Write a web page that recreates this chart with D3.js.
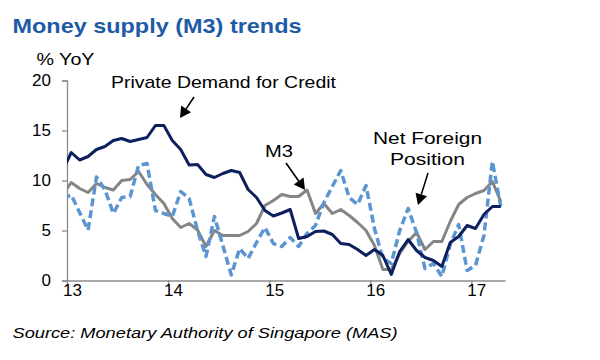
<!DOCTYPE html>
<html><head><meta charset="utf-8">
<script src="https://cdn.jsdelivr.net/npm/d3@7"></script>
<style>
body{margin:0;background:#fff;}
svg{display:block;font-family:"Liberation Sans",Arial,sans-serif;}
</style></head>
<body>
<svg id="chart" width="600" height="360"></svg>
<script>
// Month index: -1 = Dec 2012, 0 = Jan 2013 ... 51 = Apr 2017
const startIndex = -1;
const privateCredit = [11.0, 12.8, 12.05, 12.4, 13.1, 13.4, 14.0, 14.2, 13.9, 14.1, 14.3, 15.5, 15.5,
  14.0, 13.1, 11.55, 11.6, 10.6, 10.3, 10.7, 11.0, 10.8, 9.1, 8.3, 7.0, 6.45, 6.75, 7.1, 4.2, 4.4, 4.9, 4.95, 4.6,
  3.7, 3.6, 3.1, 2.5, 3.1, 2.5, 0.6, 2.9, 4.1, 3.0, 2.3, 2.0, 1.4, 3.8, 4.4, 5.5, 5.2, 6.6, 7.4, 7.4];
const m3 = [8.6, 9.8, 9.2, 8.8, 9.7, 9.3, 9.05, 10.0, 10.1, 10.9, 9.6, 8.6, 7.7,
  6.2, 5.3, 5.7, 5.05, 3.4, 5.0, 4.5, 4.5, 4.5, 4.9, 5.7, 7.5, 8.0, 8.6, 8.4, 8.4, 9.05, 6.7, 7.7, 6.7,
  7.1, 6.5, 5.8, 5.0, 3.5, 1.1, 1.1, 2.7, 3.9, 4.8, 3.1, 3.9, 3.9, 5.9, 7.6, 8.3, 8.7, 9.0, 9.9, 7.9];
const netForeign = [8.2, 8.55, 6.8, 5.05, 10.35, 9.1, 6.7, 8.3, 8.4, 11.5, 11.7, 7.0, 6.7,
  6.4, 8.9, 8.2, 5.0, 2.4, 6.4, 3.5, 0.55, 3.2, 2.2, 3.8, 5.3, 3.7, 3.4, 4.3, 3.4, 4.7, 5.5, 7.8, 9.4,
  11.0, 8.3, 7.6, 9.5, 5.2, 2.2, 1.7, 5.0, 7.2, 4.8, 1.2, 1.7, 0.4, 3.6, 5.6, 1.0, 1.5, 4.5, 11.9, 7.4];
const yTicks = [0, 5, 10, 15, 20];
const xTickLabels = ["13", "14", "15", "16", "17"];

const svg = d3.select("#chart");
const x = d3.scaleLinear().domain([-0.5, 51.5]).range([67, 505]);
const y = d3.scaleLinear().domain([0, 20]).range([280.5, 80.5]);
const axisColor = "#8c8c8c";

function label(tx, ty, size, txt, len, opts = {}) {
  const t = svg.append("text").attr("x", tx).attr("y", ty).attr("font-size", size)
    .attr("fill", opts.fill || "#000").text(txt);
  if (len) t.attr("textLength", len).attr("lengthAdjust", "spacingAndGlyphs");
  if (opts.bold) t.attr("font-weight", "bold");
  if (opts.italic) t.attr("font-style", "italic");
  return t;
}

// title
label(12.5, 33, 21, "Money supply (M3) trends", 289, {fill: "#1d5ba6", bold: true});
label(36.5, 65, 17, "% YoY", 58);

// y axis
const yAxis = svg.append("g").attr("transform", `translate(${x(-0.5)},0)`)
  .call(d3.axisLeft(y).tickValues(yTicks).tickSize(5).tickPadding(11).tickFormat(d3.format("d")));
yAxis.selectAll("path,line").attr("stroke", axisColor).attr("stroke-width", 1.3);
yAxis.selectAll("text").attr("font-size", 17).attr("fill", "#000")
  .attr("font-family", "Liberation Sans, Arial, sans-serif");

// x axis
const yearTicks = xTickLabels.map((d, i) => -0.5 + 12 * i);
const xAxis = svg.append("g").attr("transform", `translate(0,${y(0)})`)
  .call(d3.axisBottom(x).tickValues(yearTicks).tickSize(5).tickSizeOuter(0)
    .tickFormat((d, i) => xTickLabels[i]));
xAxis.selectAll("path,line").attr("stroke", axisColor).attr("stroke-width", 1.3);
xAxis.selectAll("text").attr("font-size", 17).attr("fill", "#000").attr("dx", 5).attr("dy", 7)
  .attr("font-family", "Liberation Sans, Arial, sans-serif");

// clip
svg.append("clipPath").attr("id", "plot").append("rect")
  .attr("x", x(-0.5)).attr("y", 60).attr("width", x(51.5) - x(-0.5) + 4).attr("height", 230);

const line = d3.line().x((d, i) => x(startIndex + i)).y(d => y(d));
const g = svg.append("g").attr("clip-path", "url(#plot)");
g.append("path").datum(m3).attr("d", line).attr("fill", "none")
  .attr("stroke", "#858585").attr("stroke-width", 3).attr("stroke-linejoin", "round");
g.append("path").datum(netForeign).attr("d", line).attr("fill", "none")
  .attr("stroke", "#5b96d2").attr("stroke-width", 3.5).attr("stroke-dasharray", "8,4")
  .attr("stroke-linejoin", "round");
g.append("path").datum(privateCredit).attr("d", line).attr("fill", "none")
  .attr("stroke", "#0c1f5e").attr("stroke-width", 3).attr("stroke-linejoin", "round");

// annotations
function arrow(x1, y1, x2, y2) {
  const ang = Math.atan2(y2 - y1, x2 - x1);
  const L = 11, W = 6;
  const bx = x2 - L * Math.cos(ang), by = y2 - L * Math.sin(ang);
  svg.append("line").attr("x1", x1).attr("y1", y1).attr("x2", bx).attr("y2", by)
    .attr("stroke", "#000").attr("stroke-width", 1.6);
  const px = -Math.sin(ang) * W, py = Math.cos(ang) * W;
  svg.append("path").attr("d", `M${x2},${y2}L${bx + px},${by + py}L${bx - px},${by - py}Z`).attr("fill", "#000");
}
label(111, 88, 17, "Private Demand for Credit", 225);
arrow(194, 97, 180, 118);
label(265, 157, 17, "M3", 28);
arrow(286, 163, 305, 190);
label(373, 143.5, 17, "Net Foreign", 109);
label(390, 165, 17, "Position", 75);
arrow(428, 173, 418, 205);

label(12.5, 338, 15, "Source: Monetary Authority of Singapore (MAS)", 385, {italic: true});
</script>
</body></html>
